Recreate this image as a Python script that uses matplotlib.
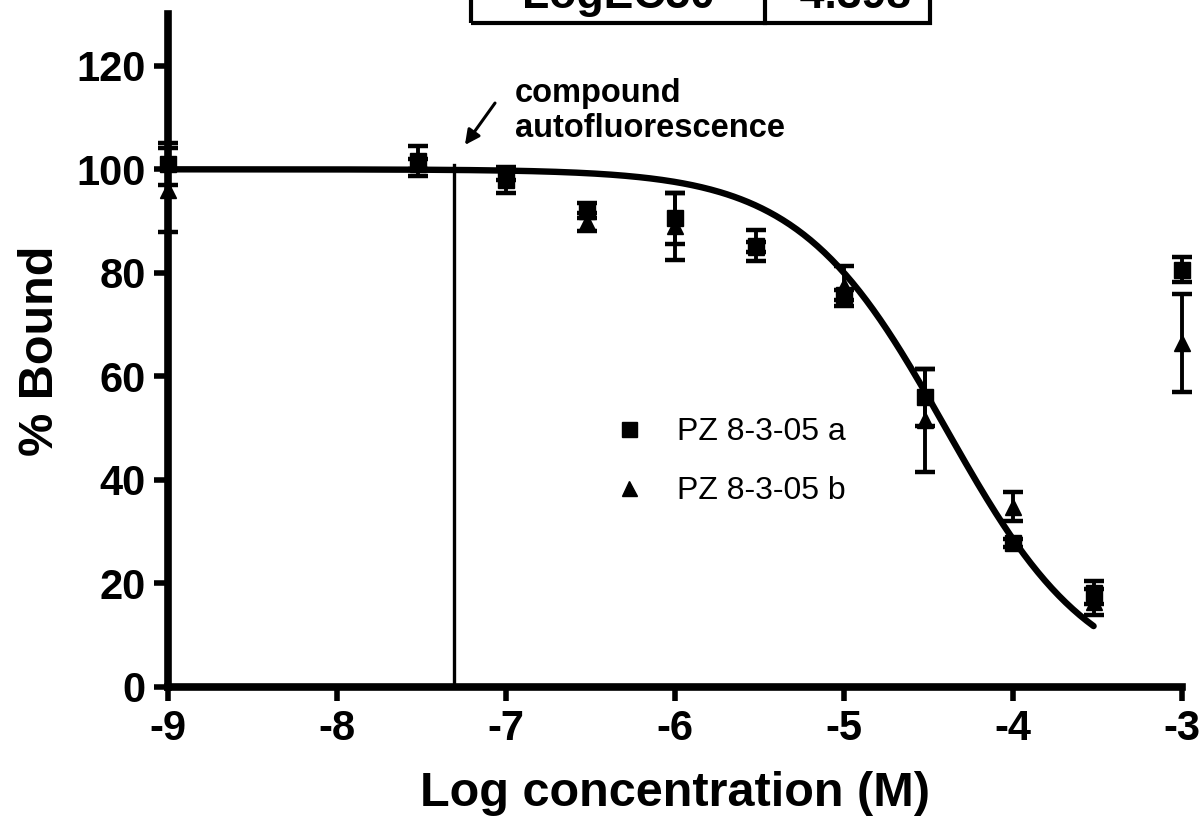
import matplotlib
matplotlib.use("Agg")
import matplotlib.pyplot as plt
from matplotlib.patches import Rectangle
from matplotlib.lines import Line2D
import numpy as np

"""Data read from the figure"""

# log molar concentrations (1e-9, 3e-8, 1e-7, 3e-7 ... 1e-3)
log_conc = [-9.0, -7.523, -7.0, -6.523, -6.0, -5.523, -5.0, -4.523, -4.0, -3.523, -3.0]

# PZ 8-3-05 a (squares)
bound_a = [101.0, 101.6, 98.0, 92.0, 90.5, 85.2, 75.7, 56.0, 27.8, 18.2, 80.6]
err_a = [4.0, 2.9, 2.5, 1.5, 5.0, 3.0, 1.0, 5.5, 0.8, 2.2, 2.4]

# PZ 8-3-05 b (triangles)
bound_b = [96.0, 101.0, 99.0, 89.8, 89.0, 85.0, 77.5, 51.5, 34.8, 16.5, 66.5]
err_b = [8.2, 1.0, 1.0, 1.8, 6.5, 1.0, 3.9, 10.0, 2.8, 2.5, 9.5]

labels = ["PZ 8-3-05 a", "PZ 8-3-05 b"]

# fitted sigmoid (top, bottom, LogEC50, hill slope)
TOP = 100.0
BOTTOM = 0.0
LOG_EC50 = -4.398
HILL = -1.0
FIT_RANGE = (-9.0, -3.523)

# autofluorescence cut-off marker
AUTOFLUOR_X = -7.31
AUTOFLUOR_TOP = 100.8

xticks = [-9, -8, -7, -6, -5, -4, -3]
yticks = [0, 20, 40, 60, 80, 100, 120]

"""Figure"""
plt.rcParams['font.family'] = ['Liberation Sans', 'DejaVu Sans']
plt.rcParams['axes.unicode_minus'] = False

W, H = 1204, 825
fig = plt.figure(figsize=(W / 100, H / 100), dpi=100)
ax = fig.add_axes([168 / W, 1 - 687 / H, (1182 - 168) / W, (687 - 14) / H])

x_fit = np.linspace(FIT_RANGE[0], FIT_RANGE[1], 400)
y_fit = BOTTOM + (TOP - BOTTOM) / (1 + 10 ** ((LOG_EC50 - x_fit) * HILL))
ax.plot(x_fit, y_fit, color='black', lw=4.6, solid_capstyle='round', zorder=3)

ebar = dict(fmt='none', ecolor='black', elinewidth=2.8, capsize=7, capthick=3.2, clip_on=False, zorder=4)
ax.errorbar(log_conc, bound_b, yerr=err_b, **ebar)
ax.errorbar(log_conc, bound_a, yerr=err_a, **ebar)
ax.plot(log_conc, bound_b, ls='none', marker='^', ms=12, color='black', label=labels[1], clip_on=False, zorder=5)
ax.plot(log_conc, bound_a, ls='none', marker='s', ms=12, color='black', label=labels[0], clip_on=False, zorder=5)

ax.plot([AUTOFLUOR_X, AUTOFLUOR_X], [0, AUTOFLUOR_TOP], color='black', lw=2.4, zorder=2)
ax.annotate('', xy=(-7.243, 104.7), xytext=(-7.065, 112.8),
            arrowprops=dict(arrowstyle='-|>', color='black', lw=2.2, mutation_scale=22, shrinkA=0, shrinkB=0))
ax.text(-6.947, 117.6, 'compound\nautofluorescence', fontsize=23.5, fontweight='bold',
        ha='left', va='top', linespacing=1.15)

ax.set_xlim(-9, -3)
ax.set_ylim(0, 130)
ax.set_xticks(xticks)
ax.set_xticklabels([str(t) for t in xticks])
ax.set_yticks(yticks)
ax.tick_params(axis='both', length=10, width=4, labelsize=30, pad=6)
for lab in ax.get_xticklabels() + ax.get_yticklabels():
    lab.set_fontweight('bold')
for s in ['top', 'right']:
    ax.spines[s].set_visible(False)
for s in ['left', 'bottom']:
    ax.spines[s].set_linewidth(5.5)
    ax.spines[s].set_capstyle('projecting')

ax.set_xlabel('Log concentration (M)', fontsize=35, fontweight='bold', labelpad=16)
ax.set_ylabel('% Bound', fontsize=35, fontweight='bold', labelpad=10)

handles, labs = ax.get_legend_handles_labels()
ax.legend(handles[::-1], labs[::-1], loc='center left', bbox_to_anchor=(0.411, 0.335),
          frameon=False, fontsize=23, markerscale=0.9, handlelength=1.0,
          handletextpad=1.0, labelspacing=0.9)

# LogEC50 table, cut off at the top edge of the figure
fig.add_artist(Rectangle((471 / W, 1 - 23 / H), (930 - 471) / W, 60 / H,
                         transform=fig.transFigure, fill=False, lw=3, ec='black', clip_on=False))
fig.add_artist(Line2D([765 / W, 765 / W], [1 - 23 / H, 1.05], transform=fig.transFigure,
                      color='black', lw=3))
fig.text(618 / W, 1 - 8 / H, 'LogEC50', fontsize=32, fontweight='bold', ha='center', va='baseline')
fig.text(848 / W, 1 - 8 / H, f'{LOG_EC50:.3f}', fontsize=32, fontweight='bold', ha='center', va='baseline')

fig.savefig('out.png', dpi=100)
